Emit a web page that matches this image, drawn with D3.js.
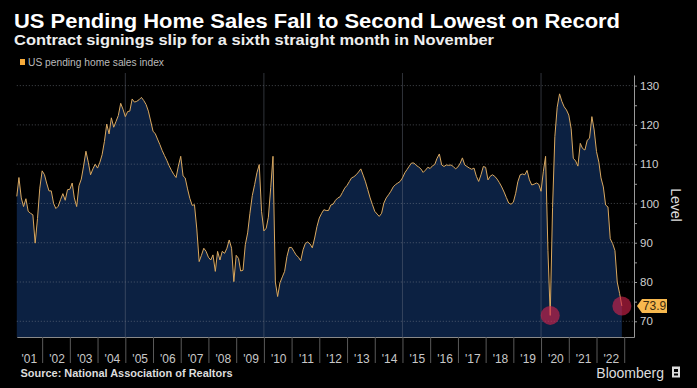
<!DOCTYPE html>
<html>
<head>
<meta charset="utf-8">
<script src="https://cdn.jsdelivr.net/npm/d3@7"></script>
<style>
  body { margin: 0; background: #000; }
  svg { display: block; font-family: "Liberation Sans", Arial, sans-serif; }
</style>
</head>
<body>
<svg id="chart" width="697" height="388"></svg>
<script>
// monthly index, Jan 2001 .. Nov 2022
const startYear = 2001;
const indexValues = [
  101.8, 106.6, 101.4, 99.2, 101.2, 98.0, 97.5, 97.1, 89.9, 96.2, 103.9, 108.3,   // 2001
  107.3, 105.2, 103.2, 103.2, 100.0, 98.7, 99.3, 101.0, 102.5, 100.8, 103.5, 103.6, // 2002
  105.2, 101.4, 99.2, 104.5, 106.2, 109.5, 113.3, 110.5, 107.3, 108.8, 110.0, 109.0, // 2003
  110.5, 112.4, 115.8, 120.2, 117.7, 121.8, 119.4, 120.9, 122.4, 125.5, 124.0, 122.1, // 2004
  123.4, 123.5, 126.6, 125.8, 126.0, 126.4, 127.0, 126.2, 125.2, 123.5, 121.0, 118.4, // 2005
  117.7, 116.4, 115.0, 113.5, 112.2, 111.0, 109.6, 108.4, 107.4, 106.6, 109.5, 112.0, // 2006
  107.0, 106.5, 103.7, 101.3, 99.5, 99.7, 93.5, 85.2, 86.8, 88.6, 87.8, 86.3,       // 2007
  85.6, 86.9, 82.7, 87.8, 85.6, 87.8, 87.3, 88.6, 90.7, 88.6, 80.1, 86.8,           // 2008
  86.0, 82.8, 83.0, 89.5, 92.5, 97.5, 102.0, 104.8, 107.8, 109.9, 98.0, 93.0,       // 2009
  93.7, 96.5, 104.0, 112.0, 80.0, 76.3, 79.8, 81.3, 82.7, 86.5, 88.8, 88.8,         // 2010
  87.8, 86.9, 86.3, 85.4, 88.2, 89.8, 90.2, 89.7, 88.7, 91.2, 94.1, 96.3,           // 2011
  97.5, 98.4, 98.2, 98.2, 99.6, 99.8, 100.8, 101.4, 101.7, 102.8, 103.9, 104.6,     // 2012
  105.6, 106.5, 106.8, 107.3, 108.0, 108.8, 107.2, 105.5, 103.5, 101.4, 99.7, 98.0, // 2013
  97.3, 96.7, 97.5, 100.1, 101.4, 102.2, 103.1, 104.2, 104.8, 105.2, 105.6, 106.5,  // 2014
  107.8, 108.6, 109.5, 110.3, 110.3, 109.7, 109.3, 108.8, 107.9, 108.5, 109.2, 108.9, // 2015
  109.6, 109.9, 111.5, 112.6, 109.8, 109.4, 109.8, 109.7, 109.8, 109.4, 108.8, 109.3, // 2016
  110.3, 111.6, 109.8, 109.4, 109.0, 108.7, 109.0, 106.9, 105.6, 107.3, 109.4, 109.2, // 2017
  106.0, 106.9, 107.3, 106.9, 106.2, 105.3, 104.2, 102.9, 101.5, 100.1, 99.8, 100.3, // 2018
  102.6, 105.5, 107.3, 107.5, 107.3, 108.4, 106.0, 104.7, 104.9, 105.2, 104.9, 103.1, // 2019
  108.2, 112.0, 88.0, 71.5, 99.0, 117.0, 124.5, 127.9, 126.0, 124.6, 123.8, 122.5,  // 2020
  119.0, 111.5, 110.8, 109.5, 115.3, 114.0, 113.6, 116.1, 116.6, 122.1, 118.7, 113.2, // 2021
  110.5, 106.5, 104.2, 99.6, 99.1, 91.0, 89.8, 88.0, 80.0, 77.1, 73.9              // 2022
];
const yearLabels = ["'01", "'02", "'03", "'04", "'05", "'06", "'07", "'08", "'09", "'10", "'11",
                    "'12", "'13", "'14", "'15", "'16", "'17", "'18", "'19", "'20", "'21", "'22"];
const levelTicks = [70, 75, 80, 85, 90, 95, 100, 105, 110, 115, 120, 125, 130];
const gridLevels = [70, 80, 90, 100, 110, 120, 130];
const gridYears = [2005, 2010, 2015, 2020];
const circledMonths = [231, 262];   // Apr 2020, Nov 2022
const lastLabel = "73.9";

class PendingSalesChart {

    constructor(values) {
        this.data = values.map(function(v, i) {
            return { date: new Date(startYear, i + 1, 1), value: v };
        });
        this.svg = d3.select("#chart");
        this.x = d3.scaleTime()
            .domain([new Date(2001, 1, 1), new Date(2023, 4, 10)])
            .range([16.8, 634]);
        this.y = d3.scaleLinear().domain([66, 132.7]).range([337, 75]);
    }

    /**
     * title, subtitle, legend and footer texts
     */
    drawTexts() {
        var svg = this.svg;
        svg.append("rect").attr("width", 697).attr("height", 388).attr("fill", "#000");

        svg.append("text")
            .attr("x", 14).attr("y", 27.5)
            .attr("font-size", 20).attr("font-weight", "bold").attr("fill", "#fff")
            .attr("textLength", 606).attr("lengthAdjust", "spacingAndGlyphs")
            .text("US Pending Home Sales Fall to Second Lowest on Record");

        svg.append("text")
            .attr("x", 14).attr("y", 45)
            .attr("font-size", 15).attr("font-weight", "bold").attr("fill", "#eee")
            .attr("textLength", 480).attr("lengthAdjust", "spacingAndGlyphs")
            .text("Contract signings slip for a sixth straight month in November");

        svg.append("rect")
            .attr("x", 20).attr("y", 59).attr("width", 5).attr("height", 6)
            .attr("fill", "#f5a93a");
        svg.append("text")
            .attr("x", 28).attr("y", 65.5)
            .attr("font-size", 10).attr("fill", "#bbb")
            .attr("textLength", 136).attr("lengthAdjust", "spacingAndGlyphs")
            .text("US pending home sales index");

        svg.append("text")
            .attr("x", 20.5).attr("y", 376.5)
            .attr("font-size", 10).attr("font-weight", "bold").attr("fill", "#ddd")
            .attr("textLength", 212).attr("lengthAdjust", "spacingAndGlyphs")
            .text("Source: National Association of Realtors");

        svg.append("text")
            .attr("x", 664).attr("y", 378).attr("text-anchor", "end")
            .attr("font-size", 14).attr("fill", "#ddd")
            .text("Bloomberg");
        svg.append("rect")
            .attr("x", 672).attr("y", 366.5).attr("width", 8).attr("height", 11)
            .attr("fill", "#ddd");
        svg.append("rect")
            .attr("x", 674).attr("y", 369).attr("width", 4).attr("height", 3)
            .attr("fill", "#000");
        svg.append("rect")
            .attr("x", 674).attr("y", 373.5).attr("width", 4).attr("height", 2)
            .attr("fill", "#000");
    }

    /**
     * area, grid and the index line
     */
    drawPlot() {
        var x = this.x, y = this.y, svg = this.svg;

        var area = d3.area()
            .x(function(d) { return x(d.date); })
            .y0(y(66))
            .y1(function(d) { return y(d.value); });

        svg.append("path")
            .datum(this.data)
            .attr("d", area)
            .attr("fill", "#0c2142");

        svg.append("g")
            .selectAll("line")
            .data(gridLevels)
            .enter().append("line")
            .attr("x1", x.range()[0]).attr("x2", x.range()[1])
            .attr("y1", function(d) { return y(d); })
            .attr("y2", function(d) { return y(d); })
            .attr("stroke", "#8a8f99").attr("stroke-opacity", 0.5)
            .attr("stroke-dasharray", "1,2");

        svg.append("g")
            .selectAll("line")
            .data(gridYears)
            .enter().append("line")
            .attr("x1", function(d) { return x(new Date(d, 0, 1)); })
            .attr("x2", function(d) { return x(new Date(d, 0, 1)); })
            .attr("y1", 73).attr("y2", 337)
            .attr("stroke", "#6a7080").attr("stroke-opacity", 0.45);

        var line = d3.line()
            .x(function(d) { return x(d.date); })
            .y(function(d) { return y(d.value); });

        svg.append("path")
            .datum(this.data)
            .attr("d", line)
            .attr("fill", "none")
            .attr("stroke", "#d9a860")
            .attr("stroke-width", 1)
            .attr("stroke-linejoin", "round");
    }

    drawAxes() {
        var x = this.x, y = this.y, svg = this.svg;

        var yearTicks = d3.timeYear.range(new Date(2002, 0, 1), new Date(2023, 0, 2));
        var xAxis = svg.append("g")
            .attr("transform", "translate(0,337)")
            .call(d3.axisBottom(x).tickValues(yearTicks).tickSize(26).tickSizeOuter(0).tickFormat(""));
        xAxis.select(".domain").attr("stroke", "#8a8a8a");
        xAxis.selectAll(".tick line").attr("stroke", "#5a5a5a");

        svg.append("g")
            .selectAll("text")
            .data(yearLabels)
            .enter().append("text")
            .attr("x", function(d, i) {
                return (x(new Date(startYear + i, 0, 1)) + x(new Date(startYear + i + 1, 0, 1))) / 2 + 1;
            })
            .attr("y", 362.5)
            .attr("text-anchor", "middle")
            .attr("font-size", 12).attr("fill", "#c8c8c8")
            .text(function(d) { return d; });

        var yAxis = svg.append("g")
            .attr("transform", "translate(634,0)")
            .call(d3.axisRight(y).tickValues(levelTicks).tickSize(3).tickSizeOuter(0)
                .tickFormat(function(d) { return d % 10 === 0 ? d : ""; }));
        yAxis.select(".domain").attr("stroke", "#9a9a9a");
        yAxis.selectAll(".tick line").attr("stroke", "#9a9a9a");
        yAxis.selectAll(".tick text")
            .attr("font-size", 11.5).attr("fill", "#cfcfcf")
            .attr("font-family", "Liberation Sans, Arial, sans-serif");

        svg.append("text")
            .attr("transform", "translate(671,205) rotate(90)")
            .attr("text-anchor", "middle")
            .attr("font-size", 14).attr("fill", "#ddd")
            .text("Level");
    }

    /**
     * red circles on the two lows and the last value tag
     */
    drawMarkers() {
        var x = this.x, y = this.y, svg = this.svg, data = this.data;

        svg.append("g")
            .selectAll("circle")
            .data(circledMonths)
            .enter().append("circle")
            .attr("cx", function(i) { return x(data[i].date); })
            .attr("cy", function(i) { return y(data[i].value); })
            .attr("r", 9.5)
            .attr("fill", "#d4234c")
            .attr("fill-opacity", 0.62);

        var last = data[data.length - 1];
        var ty = y(last.value);
        var tag = svg.append("g").attr("transform", "translate(637," + ty + ")");
        tag.append("path")
            .attr("d", "M0,0 L5,-7 L30,-7 L30,7 L5,7 Z")
            .attr("fill", "#f7b84e");
        tag.append("text")
            .attr("x", 17.5).attr("y", 4.3)
            .attr("text-anchor", "middle")
            .attr("font-size", 12).attr("fill", "#3a2a10")
            .text(lastLabel);
    }
}

var chart = new PendingSalesChart(indexValues);
chart.drawTexts();
chart.drawPlot();
chart.drawAxes();
chart.drawMarkers();
</script>
</body>
</html>
